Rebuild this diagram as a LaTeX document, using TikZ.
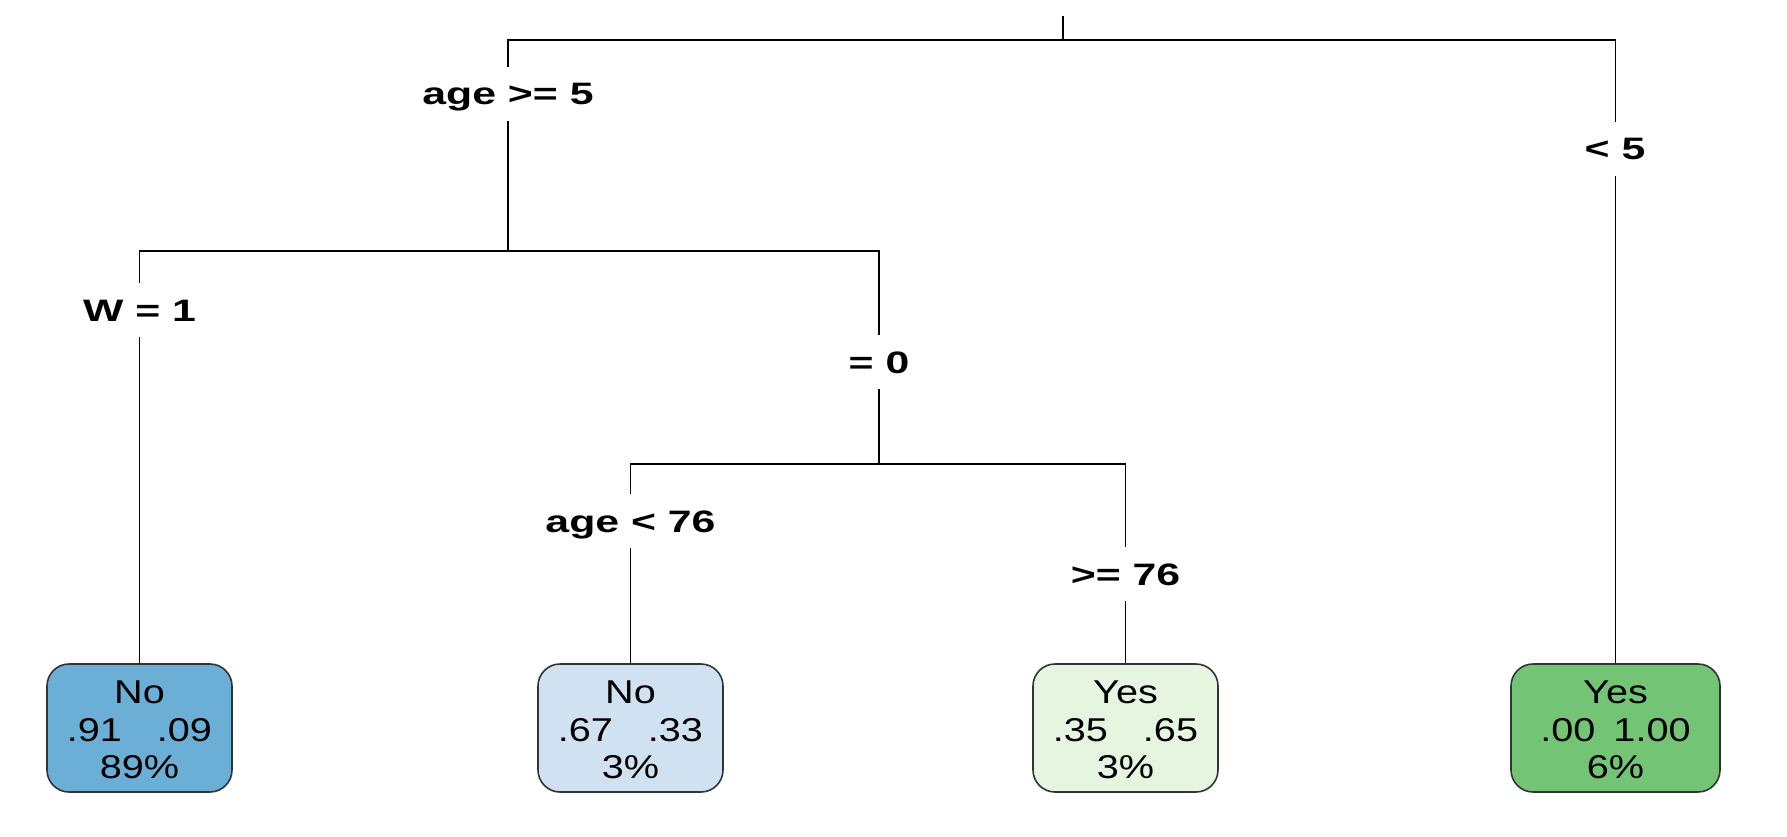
\documentclass[tikz,border=0pt]{standalone}
\usepackage{fontspec}
\setmainfont{Liberation Sans}
\newfontfamily\leaffont[FakeStretch=1.2]{Liberation Sans}
\newfontfamily\lblfont[FakeStretch=1.38]{Liberation Sans}
\definecolor{leafA}{HTML}{6BAED6}
\definecolor{leafB}{HTML}{D0E1F2}
\definecolor{leafC}{HTML}{E5F5E0}
\definecolor{leafD}{HTML}{74C476}
\begin{document}
\begin{tikzpicture}[x=1pt,y=-1pt,
  branch/.style={line width=1.8pt, draw=black},
  splitlabel/.style={fill=white, font=\lblfont\bfseries\fontsize{31}{37}\selectfont,
    text height=22pt, text depth=0pt, inner xsep=3pt, inner ysep=16pt},
  leafbox/.style={draw=black!80, line width=1.6pt, rounded corners=22pt,
    minimum width=185pt, minimum height=128pt, inner sep=0pt},
  leaftext/.style={font=\leaffont\fontsize{33}{38}\selectfont,
    text height=23.6pt, text depth=0pt, inner sep=0pt}]
\useasboundingbox (0,0) rectangle (1787,837);

% leaves
\node[leafbox, fill=leafA] (L1) at (139.5,728) {};
\node[leafbox, fill=leafB] (L2) at (630.5,728) {};
\node[leafbox, fill=leafC] (L3) at (1125.5,728) {};
\node[leafbox, fill=leafD, minimum width=209pt] (L4) at (1615.5,728) {};

% junctions
\coordinate (r0) at (1063,16);
\coordinate (r1) at (1063,40);
\coordinate (a1) at (508,251);
\coordinate (b1) at (879,464);

% connectors
\draw[branch] (r0) -- (r1);
\draw[branch] (a1) |- (r1) -| (L4.north);
\draw[branch] (L1.north) |- (a1) -| (b1);
\draw[branch] (L2.north) |- (b1) -| (L3.north);

% split labels
\node[splitlabel] (s1) at (508,94) {age >= 5};
\node[splitlabel] (s2) at (1615,149) {< 5};
\node[splitlabel] (s3) at (139.5,310) {W = 1};
\node[splitlabel] (s4) at (879,362) {= 0};
\node[splitlabel] (s5) at (630.5,521) {age < 76};
\node[splitlabel] (s6) at (1125.5,574) {>= 76};

% leaf texts
\node[leaftext] (L1a) at (139.5,692) {No};
\node[leaftext] (L1b) at (139.5,730) {.91\hspace{35pt}.09};
\node[leaftext] (L1c) at (139.5,767) {89\%};
\node[leaftext] (L2a) at (630.5,692) {No};
\node[leaftext] (L2b) at (630.5,730) {.67\hspace{35pt}.33};
\node[leaftext] (L2c) at (630.5,767) {3\%};
\node[leaftext] (L3a) at (1125.5,692) {Yes};
\node[leaftext] (L3b) at (1125.5,730) {.35\hspace{35pt}.65};
\node[leaftext] (L3c) at (1125.5,767) {3\%};
\node[leaftext] (L4a) at (1615.5,692) {Yes};
\node[leaftext] (L4b) at (1615.5,730) {.00\hspace{18pt}1.00};
\node[leaftext] (L4c) at (1615.5,767) {6\%};
\end{tikzpicture}
\end{document}
